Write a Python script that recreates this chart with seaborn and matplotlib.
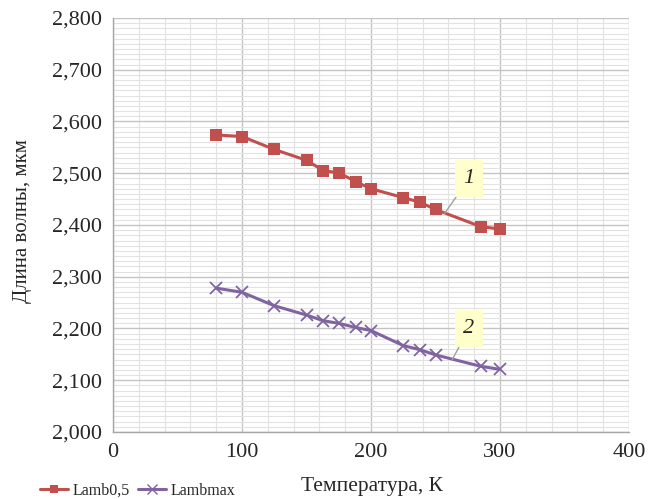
import matplotlib
matplotlib.use("Agg")
import matplotlib.pyplot as plt
from matplotlib.ticker import MultipleLocator, FuncFormatter
from matplotlib.lines import Line2D
import seaborn as sns
import pandas as pd

# Measured data: temperature (K) vs wavelength (um)
temperature = [80, 100, 125, 150, 163, 175, 188, 200, 225, 238, 250, 285, 300]
lamb_half = [2.574, 2.571, 2.546, 2.525, 2.505, 2.501, 2.484, 2.470, 2.453, 2.444, 2.430, 2.397, 2.392]
lamb_max = [2.278, 2.270, 2.244, 2.226, 2.215, 2.210, 2.202, 2.196, 2.167, 2.159, 2.149, 2.127, 2.121]
series_names = ["Lamb0,5", "Lambmax"]
x_ticks = [0, 100, 200, 300, 400]

df = pd.DataFrame({
    "T": temperature * 2,
    "L": lamb_half + lamb_max,
    "series": [series_names[0]] * len(temperature) + [series_names[1]] * len(temperature),
})

sns.set_style("white")
plt.rcParams["font.family"] = ["Liberation Serif", "DejaVu Serif"]

RED = "#C0504D"
PURPLE = "#8064A2"

fig = plt.figure(figsize=(6.54, 4.99), dpi=100)
ax = fig.add_axes([113 / 654, 1 - 432 / 499, (629 - 113) / 654, (432 - 18) / 499])

palette = {series_names[0]: RED, series_names[1]: PURPLE}
sns.lineplot(data=df, x="T", y="L", hue="series", style="series",
             markers={series_names[0]: "s", series_names[1]: "X"},
             dashes=False, palette=palette, linewidth=2.2, markersize=8.5,
             markeredgewidth=0, ax=ax, legend=False)
# thin cross marker for the second curve
line2 = ax.lines[1]
line2.set_marker("x")
line2.set_markeredgewidth(1.3)
line2.set_markersize(9)
line2.set_markeredgecolor(PURPLE)

ax.set_xlim(0, 400)
ax.set_ylim(2.0, 2.8)
ax.set_xticks(x_ticks)
ax.xaxis.set_minor_locator(MultipleLocator(20))
ax.yaxis.set_major_locator(MultipleLocator(0.1))
ax.yaxis.set_minor_locator(MultipleLocator(0.01))
ax.yaxis.set_major_formatter(FuncFormatter(lambda v, p: f"{v:.3f}".replace(".", ",")))

ax.grid(which="major", color="#c4c4c4", linewidth=1.0)
ax.grid(which="minor", color="#e2e2e2", linewidth=0.8)
ax.set_axisbelow(True)
for s in ["top", "right"]:
    ax.spines[s].set_visible(False)
for s in ["left", "bottom"]:
    ax.spines[s].set_color("#a6a6a6")
    ax.spines[s].set_linewidth(1.0)

ax.tick_params(axis="both", which="major", direction="out", length=5, width=1,
               color="#a6a6a6", labelsize=16, pad=3)
ax.tick_params(axis="x", which="minor", direction="out", length=3, color="#a6a6a6")
ax.tick_params(axis="y", which="minor", length=0)

ax.set_xlabel("Температура, К", fontsize=15.5, va="center")
ax.xaxis.set_label_coords((372 - 113) / 516, (432 - 487) / 414)
ax.set_ylabel("Длина волны, мкм", fontsize=15, va="center")
ax.yaxis.set_label_coords((23 - 113) / 516, (432 - 221) / 414)

# curve labels with leader lines
box = dict(boxstyle="square,pad=0.4", fc="#FFFFCC", ec="none")
ax.annotate("1", xy=(257, lamb_half[10] - 0.008), xytext=(276, 2.49),
            fontsize=16, style="italic", ha="center", va="center", bbox=box,
            arrowprops=dict(arrowstyle="-", color="#a0a0a0", lw=1, shrinkA=0, shrinkB=0))
ax.annotate("2", xy=(263, 2.140), xytext=(276, 2.200),
            fontsize=16, style="italic", ha="center", va="center", bbox=box,
            arrowprops=dict(arrowstyle="-", color="#a0a0a0", lw=1, shrinkA=0, shrinkB=0))

# legend below the plot area
handles = [
    Line2D([], [], color=RED, marker="s", markersize=6, markeredgewidth=0, lw=2.2),
    Line2D([], [], color=PURPLE, marker="x", markersize=7, markeredgewidth=1, lw=2.2),
]
fig.legend(handles, series_names, loc="center left",
           bbox_to_anchor=(40 / 654, 1 - 491 / 499),
           ncol=2, frameon=False, fontsize=11.5, handlelength=1.75,
           columnspacing=0.5, handletextpad=0.3, borderpad=0, borderaxespad=0)

fig.savefig("out.png", dpi=100)
